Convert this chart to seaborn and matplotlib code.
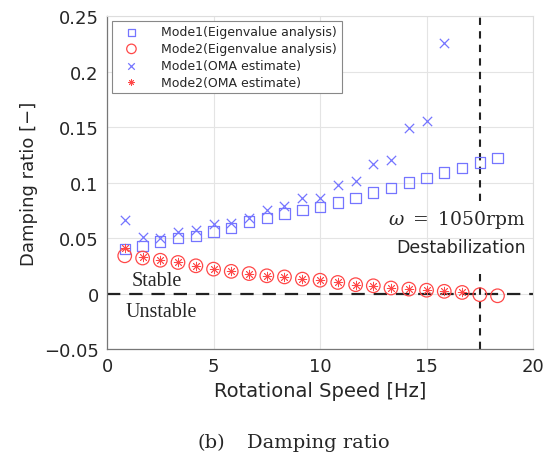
import numpy as np
import pandas as pd
import matplotlib
matplotlib.use("Agg")
import matplotlib.pyplot as plt
import seaborn as sns

# Rotational speed steps (Hz), 50 rpm apart
speed_hz = [0.83, 1.67, 2.50, 3.33, 4.17, 5.00, 5.83, 6.67, 7.50, 8.33, 9.17,
            10.00, 10.83, 11.67, 12.50, 13.33, 14.17, 15.00, 15.83, 16.67,
            17.50, 18.33]

# Eigenvalue analysis
mode1_eig = [0.040, 0.043, 0.047, 0.050, 0.052, 0.056, 0.059, 0.065, 0.068,
             0.072, 0.075, 0.078, 0.082, 0.086, 0.091, 0.095, 0.100, 0.104,
             0.109, 0.113, 0.118, 0.122]
mode2_eig = [0.034, 0.032, 0.030, 0.028, 0.025, 0.022, 0.020, 0.018, 0.016,
             0.015, 0.013, 0.012, 0.010, 0.008, 0.007, 0.005, 0.004, 0.003,
             0.002, 0.001, -0.001, -0.002]

# OMA estimates (fewer points)
mode1_oma = [0.066, 0.051, 0.050, 0.055, 0.057, 0.063, 0.064, 0.068, 0.075,
             0.079, 0.086, 0.086, 0.098, 0.101, 0.117, 0.120, 0.149, 0.155,
             0.226]
mode2_oma = [0.041, 0.033, 0.030, 0.028, 0.025, 0.022, 0.020, 0.018, 0.016,
             0.015, 0.013, 0.012, 0.010, 0.008, 0.007, 0.005, 0.004, 0.003,
             0.002, 0.001]

destab_hz = 17.5

x_ticks = [0, 5, 10, 15, 20]
y_ticks = [-0.05, 0, 0.05, 0.1, 0.15, 0.2, 0.25]
y_ticklabels = ["\u22120.05", "0", "0.05", "0.1", "0.15", "0.2", "0.25"]

blue = "#7575ff"
red = "#ff4848"

sns.set_theme(style="white")
plt.rcParams["font.family"] = ["DejaVu Sans"]
plt.rcParams["mathtext.fontset"] = "dejavuserif"

fig = plt.figure(figsize=(5.49, 4.60), dpi=100)
ax = fig.add_axes([0.195, 0.239, 0.776, 0.724])

sns.scatterplot(x=speed_hz, y=mode1_eig, marker="s", s=55, facecolor="none",
                edgecolor=blue, linewidth=0.9, ax=ax,
                label="Mode1(Eigenvalue analysis)", zorder=3)
sns.scatterplot(x=speed_hz, y=mode2_eig, marker="o", s=95, facecolor="none",
                edgecolor=red, linewidth=0.9, ax=ax,
                label="Mode2(Eigenvalue analysis)", zorder=3)
sns.scatterplot(x=speed_hz[:len(mode1_oma)], y=mode1_oma, marker="x", s=45,
                color=blue, edgecolor=blue, linewidth=0.9, ax=ax,
                label="Mode1(OMA estimate)", zorder=3)
sns.scatterplot(x=speed_hz[:len(mode2_oma)], y=mode2_oma, marker=(8, 2, 0),
                s=38, color=red, edgecolor=red, linewidth=0.6, ax=ax,
                label="Mode2(OMA estimate)", zorder=3)

# stability boundary and destabilization speed
ax.axhline(0, color="#222222", lw=1.6, ls=(0, (6, 4)), zorder=2)
ax.vlines(destab_hz, 0.083, 0.25, color="#222222", lw=1.5, ls=(0, (3.5, 3)), zorder=2)
ax.vlines(destab_hz, -0.05, 0.022, color="#222222", lw=1.5, ls=(0, (3.5, 3)), zorder=2)

serif = ["Liberation Serif", "DejaVu Serif"]
ax.text(19.65, 0.067, r"$\omega\ =\ \mathrm{1050rpm}$", fontsize=13.5,
        ha="right", va="center")
ax.text(19.65, 0.042, "Destabilization", fontsize=12.5, ha="right", va="center")
ax.text(2.35, 0.012, "Stable", family=serif, fontsize=14.5, ha="center", va="center")
ax.text(2.55, -0.016, "Unstable", family=serif, fontsize=14.5, ha="center", va="center")

ax.set_xlim(0, 20)
ax.set_ylim(-0.05, 0.25)
ax.set_xticks(x_ticks)
ax.set_yticks(y_ticks)
ax.set_yticklabels(y_ticklabels)
ax.grid(True, color="#e4e4e4", lw=0.8)
ax.set_axisbelow(True)
ax.tick_params(direction="in", length=4, width=0.8, colors="#555555",
               labelcolor="#262626", labelsize=13, pad=6)

for side in ["left", "bottom"]:
    ax.spines[side].set_color("#777777")
    ax.spines[side].set_linewidth(0.9)
for side in ["top", "right"]:
    ax.spines[side].set_color("#dddddd")
    ax.spines[side].set_linewidth(0.8)

ax.set_xlabel("Rotational Speed [Hz]", fontsize=14, color="#262626", labelpad=4)
ax.set_ylabel("Damping ratio [\u2212]", fontsize=13, color="#262626", labelpad=4)

leg = ax.legend(loc="upper left", fontsize=9, frameon=True, fancybox=False,
                edgecolor="#888888", framealpha=1, borderpad=0.35,
                labelspacing=0.3, handletextpad=1.2, borderaxespad=0.4,
                handlelength=2.4, markerscale=0.7)
leg.get_frame().set_linewidth(0.8)

fig.text(0.36, 0.037, "(b)", family=["DejaVu Serif"], fontsize=14,
         ha="left", va="center")
fig.text(0.45, 0.037, "Damping ratio", family=["DejaVu Serif"], fontsize=14,
         ha="left", va="center")

fig.savefig("out.png", dpi=100)
